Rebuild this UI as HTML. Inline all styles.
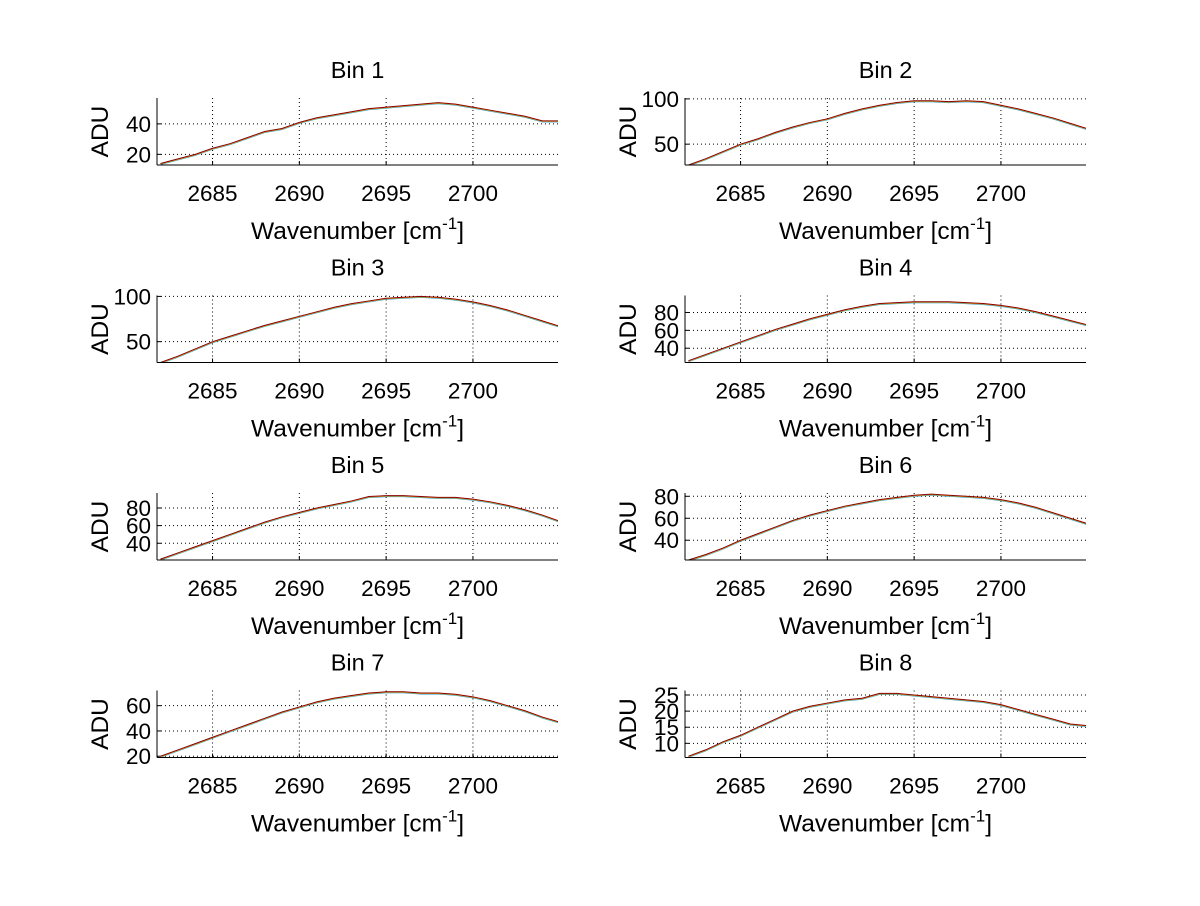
<!DOCTYPE html>
<html><head><meta charset="utf-8"><style>
body{margin:0;background:#fff}
svg text{font-family:"Liberation Sans",sans-serif;fill:#000}
</style></head><body>
<svg id="fig" width="1200" height="901" xmlns="http://www.w3.org/2000/svg"></svg>
<script>
const wavenumbers=[2682,2683,2684,2685,2686,2687,2688,2689,2690,2691,2692,2693,2694,2695,2696,2697,2698,2699,2700,2701,2702,2703,2704,2705];
const bin1=[14,17,20,24,27,31,35,37,41,44,46,48,50,51,52,53,54,53,51,49,47,45,42,42];
const bin2=[27,34,42,50,56,63,69,74,78,84,89,93,96,98,98,97,98,97,93,89,84,79,73,67];
const bin3=[27,34,42,50,56,62,68,73,78,83,88,92,95,98,99,100,99,97,94,90,85,79,73,67];
const bin4=[26,33,40,47,54,61,67,73,78,83,87,90,91,92,92,92,91,90,88,85,81,76,71,66];
const bin5=[22,29,36,43,50,57,64,70,75,80,84,88,93,94,94,93,92,92,90,87,83,78,72,65];
const bin6=[22,27,33,40,46,52,58,63,67,71,74,77,79,81,82,81,80,79,77,74,70,65,60,55];
const bin7=[20,25,30,35,40,45,50,55,59,63,66,68,70,71,71,70,70,69,67,64,60,56,51,47];
const bin8=[6,8,10.5,12.5,15,17.5,20,21.5,22.5,23.5,24,25.5,25.5,25,24.5,24,23.5,23,22,20.5,19,17.5,16,15.5];
const xTicks=[2685,2690,2695,2700];
const yLims=[[13,57],[27,101],[27,101],[24,99],[21,97],[22,83],[19,72],[5.6,26.4]];
const yTicks=[[20,40],[50,100],[50,100],[40,60,80],[40,60,80],[40,60,80],[20,40,60],[10,15,20,25]];
const series=[bin1,bin2,bin3,bin4,bin5,bin6,bin7,bin8];
const xMin=2681.8,xMax=2704.9;
const NS="http://www.w3.org/2000/svg";
const svg=document.getElementById('fig');
function mk(tag,attrs,parent){const e=document.createElementNS(NS,tag);for(const k in attrs)e.setAttribute(k,attrs[k]);(parent||svg).appendChild(e);return e;}
const defs=mk('defs',{});
for(let i=0;i<8;i++){
  const col=i%2,row=Math.floor(i/2);
  const L=col?685:157,R=col?1086:558,T=98+row*197.5,B=165+row*197.5;
  const sx=v=>L+(v-xMin)/(xMax-xMin)*(R-L);
  const [y0,y1]=yLims[i];
  const sy=v=>B-(v-y0)/(y1-y0)*(B-T);
  const g=mk('g',{});
  
  
  const cp=mk('clipPath',{id:'c'+i},defs);mk('rect',{x:L,y:T,width:R-L,height:B-T},cp);
  xTicks.forEach(t=>{
    const gl=mk('line',{x1:sx(t),x2:sx(t),y1:T,y2:B,stroke:'#000','stroke-width':1,'stroke-dasharray':'1,3'},g);
    
    
    mk('line',{x1:sx(t),x2:sx(t),y1:B,y2:B-4,stroke:'#000'},g);
    const tx=mk('text',{x:sx(t),y:B+36,'font-size':22.5,'text-anchor':'middle'},g);tx.textContent=t;
    
    
  });
  yTicks[i].forEach(t=>{
    const gl=mk('line',{x1:L,x2:R,y1:sy(t),y2:sy(t),stroke:'#000','stroke-width':1,'stroke-dasharray':'1,3'},g);
    
    
    mk('line',{x1:L,x2:L+4,y1:sy(t),y2:sy(t),stroke:'#000'},g);
    const tx=mk('text',{x:L-6,y:sy(t)+8,'font-size':22.5,'text-anchor':'end'},g);tx.textContent=t;
    
    
  });
  const d=series[i];
  const colors=['#1a9ad6','#e8b020','#8b0000'];
  colors.forEach((c,k)=>{
    const pts=wavenumbers.map((w,j)=>sx(w)+','+(sy(d[j])+(k===0?1:k===1?0.5:0))).join(' ');
    const pl=mk('polyline',{points:pts,fill:'none',stroke:c,'stroke-width':1,'clip-path':'url(#c'+i+')'},g);
    
    
  });
  mk('line',{x1:L,x2:R,y1:B,y2:B,stroke:'#000'},g);
  mk('line',{x1:L,x2:L,y1:T,y2:B,stroke:'#000'},g);
  const cx=(L+R)/2;
  const ti=mk('text',{x:cx,y:T-20,'font-size':23.5,'text-anchor':'middle'},g);ti.textContent='Bin '+(i+1);
  
  
  const xl=mk('text',{x:cx,y:B+74,'font-size':24.5,'text-anchor':'middle'},g);
  xl.innerHTML='Wavenumber [cm<tspan dy="-10" font-size="17">-1</tspan><tspan dy="10">]</tspan>';
  
  
  const ax=L-49,ay=(T+B)/2;
  const yl=mk('text',{x:ax,y:ay,'font-size':24.5,'text-anchor':'middle',transform:'rotate(-90 '+ax+' '+ay+')'},g);
  yl.textContent='ADU';
  
  
}
</script>
</body></html>
